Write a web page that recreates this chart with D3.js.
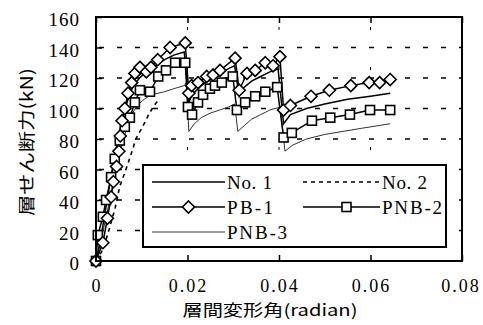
<!DOCTYPE html>
<html><head><meta charset="utf-8">
<script src="https://cdn.jsdelivr.net/npm/d3@7/dist/d3.min.js"></script>
<style>body{margin:0;background:#fff}svg{display:block}</style>
</head><body>
<svg id="c" width="483" height="325"></svg>
<script>
// ---- data ----
const xTicks = [0, 0.02, 0.04, 0.06, 0.08];
const xTickLabels = ["0", "0.02", "0.04", "0.06", "0.08"];
const yTicks = [0, 20, 40, 60, 80, 100, 120, 140, 160];
const yTickLabels = ["0", "20", "40", "60", "80", "100", "120", "140", "160"];
const seriesNames = ["No. 1", "No. 2", "PB-1", "PNB-2", "PNB-3"];
const xTitle = "層間変形角(radian)";
const yTitle = "層せん断力(kN)";

const no1 = [[0,0],[0.001,14],[0.002,32],[0.003,50],[0.004,68],[0.005,83],[0.006,96],[0.007,106],[0.008,114],[0.0095,120],[0.011,124],[0.013,128],[0.015,132],[0.017,135],[0.0193,137],
  [0.0203,104],[0.021,109],[0.023,115],[0.025,119],[0.027,123],[0.0295,127],[0.0303,128],
  [0.0313,108],[0.032,113],[0.034,118],[0.036,121],[0.038,124],[0.0398,126],
  [0.041,90],[0.0425,96],[0.046,100],[0.05,103],[0.055,106],[0.06,108],[0.0643,110]];
const no2 = [[0,0],[0.0012,6],[0.002,12],[0.003,22],[0.0042,35],[0.0052,49],[0.0063,58],[0.007,64],[0.0081,74],[0.0087,80],[0.0098,86],[0.0107,91],[0.0115,96],[0.0125,101],[0.0135,105]];
const pb1 = [[0,0],[0.0015,12],[0.0025,28],[0.0033,42],[0.0038,52],[0.0045,62],[0.005,72],[0.0053,82],[0.0057,92],[0.0063,100],[0.007,110],[0.0078,117],[0.0085,123],[0.0096,127],[0.011,124],[0.012,127],[0.0135,132],[0.0162,140],[0.0195,143],
  [0.0203,110],[0.0209,115],[0.0223,117],[0.0242,121],[0.0256,122],[0.0271,125],[0.0304,133],
  [0.0313,112],[0.033,123],[0.0348,125],[0.037,130],[0.0387,128],[0.0402,134],
  [0.041,99],[0.0425,102],[0.047,108],[0.051,112],[0.0557,115],[0.0597,117],[0.062,117],[0.0643,119]];
const pnb2 = [[0,0],[0.0004,17],[0.0015,29],[0.0022,40],[0.0033,55],[0.0041,67],[0.0052,79],[0.0063,88],[0.0074,94],[0.0085,104],[0.0096,112],[0.0118,111],[0.0136,121],[0.0153,125],[0.0173,130],[0.0195,130],
  [0.0201,101],[0.021,96],[0.0223,104],[0.0234,109],[0.0249,113],[0.026,115],[0.0275,117],[0.0299,121],
  [0.0308,99],[0.0326,104],[0.0348,108],[0.037,111],[0.0396,114],
  [0.041,81],[0.0428,84],[0.0472,92],[0.0512,94],[0.0555,96],[0.0599,99],[0.0643,99]];
const pnb3 = [[0,0],[0.001,12],[0.002,26],[0.003,40],[0.004,55],[0.005,68],[0.006,80],[0.007,90],[0.008,97],[0.009,102],[0.0105,106],[0.012,109],[0.0135,110],[0.015,111],[0.017,113],[0.0193,115],[0.0197,117],
  [0.0203,85],[0.0215,90],[0.023,94],[0.025,97],[0.027,99],[0.029,101],[0.0303,103],
  [0.031,85],[0.0325,89],[0.034,93],[0.036,96],[0.038,99],[0.0403,101],
  [0.0413,72],[0.043,76],[0.046,80],[0.05,83],[0.054,85],[0.058,87],[0.0643,90]];

// ---- layout ----
const L = 96, R = 462, T = 17, B = 261;
const x = d3.scaleLinear().domain([0, 0.08]).range([L, R]);
const y = d3.scaleLinear().domain([0, 160]).range([B, T]);
const svg = d3.select("#c");
const serif = "'Liberation Serif', 'DejaVu Serif', serif";
const jp = "'Noto Sans CJK JP', sans-serif";

// grid
svg.append("g").selectAll("line").data(yTicks.filter(v => v > 0 && v < 160)).join("line")
  .attr("x1", L).attr("x2", R).attr("y1", d => y(d)).attr("y2", d => y(d))
  .attr("stroke", "#000").attr("stroke-width", 1.5).attr("stroke-dasharray", "5,13").attr("stroke-dashoffset", -3);
svg.append("g").selectAll("line").data(xTicks.filter(v => v > 0 && v < 0.08)).join("line")
  .attr("x1", d => x(d)).attr("x2", d => x(d)).attr("y1", T).attr("y2", B)
  .attr("stroke", "#000").attr("stroke-width", 1).attr("stroke-dasharray", "3,37").attr("stroke-dashoffset", -10);

// axes (ticks inward)
const axL = d3.axisRight(y).tickValues(yTicks).tickSize(6).tickFormat("");
svg.append("g").attr("transform", `translate(${L},0)`).call(axL)
  .call(g => { g.select(".domain").remove(); g.selectAll("line").attr("stroke-width", 1.5); });
const axB = d3.axisTop(x).tickValues(xTicks).tickSize(6).tickFormat("");
svg.append("g").attr("transform", `translate(0,${B})`).call(axB)
  .call(g => { g.select(".domain").remove(); g.selectAll("line").attr("stroke-width", 1.5); });
const axT = d3.axisBottom(x).tickValues(xTicks).tickSize(6).tickFormat("");
svg.append("g").attr("transform", `translate(0,${T})`).call(axT)
  .call(g => { g.select(".domain").remove(); g.selectAll("line").attr("stroke-width", 1.5); });

// tick labels
svg.append("g").selectAll("text").data(yTicks).join("text")
  .attr("x", 80).attr("y", d => y(d) + 9).attr("text-anchor", "end")
  .attr("font-family", serif).attr("font-size", 19).attr("letter-spacing", 1)
  .text((d, i) => yTickLabels[i]);
svg.append("g").selectAll("text").data(xTicks).join("text")
  .attr("x", d => x(d) + (d === 0 ? 0 : 1) - (d === 0.08 ? 2 : 0)).attr("y", 292)
  .attr("text-anchor", "middle")
  .attr("font-family", serif).attr("font-size", 18)
  .attr("letter-spacing", d => d === 0 ? 0 : 2)
  .text((d, i) => xTickLabels[i]);

// titles
svg.append("text").attr("x", 270).attr("y", 316).attr("text-anchor", "middle")
  .attr("font-family", jp).attr("font-size", 16).attr("textLength", 175).attr("lengthAdjust", "spacingAndGlyphs")
  .text(xTitle);
svg.append("text").attr("transform", "translate(33,142) rotate(-90)").attr("text-anchor", "middle")
  .attr("font-family", jp).attr("font-size", 17).attr("textLength", 148).attr("lengthAdjust", "spacingAndGlyphs")
  .text(yTitle);

// lines
const line = d3.line().x(d => x(d[0])).y(d => y(d[1]));
const gL = svg.append("g").attr("fill", "none");
gL.append("path").datum(pnb3).attr("d", line).attr("stroke", "#333").attr("stroke-width", 1);
gL.append("path").datum(no2).attr("d", line).attr("stroke", "#000").attr("stroke-width", 1.6).attr("stroke-dasharray", "4,4");
gL.append("path").datum(no1).attr("d", line).attr("stroke", "#000").attr("stroke-width", 1.5);
gL.append("path").datum(pnb2).attr("d", line).attr("stroke", "#000").attr("stroke-width", 1.5);
gL.append("path").datum(pb1).attr("d", line).attr("stroke", "#000").attr("stroke-width", 1.5);

const sq = 9, dm = 6;
svg.append("g").selectAll("rect").data(pnb2).join("rect")
  .attr("x", d => x(d[0]) - sq/2).attr("y", d => y(d[1]) - sq/2).attr("width", sq).attr("height", sq)
  .attr("fill", "#fff").attr("stroke", "#000").attr("stroke-width", 1.6);
svg.append("g").selectAll("path").data(pb1).join("path")
  .attr("d", d => { const cx = x(d[0]), cy = y(d[1]); return `M${cx},${cy-dm}L${cx+dm},${cy}L${cx},${cy+dm}L${cx-dm},${cy}Z`; })
  .attr("fill", "#fff").attr("stroke", "#000").attr("stroke-width", 1.6);

// frame
svg.append("rect").attr("x", L).attr("y", T).attr("width", R - L).attr("height", B - T)
  .attr("fill", "none").attr("stroke", "#000").attr("stroke-width", 2);

// legend
const lg = svg.append("g");
lg.append("rect").attr("x", 143).attr("y", 165).attr("width", 303).attr("height", 82)
  .attr("fill", "#fff").attr("stroke", "#000").attr("stroke-width", 2);
const legItems = [
  {name: seriesNames[0], x0: 152, x1: 225, ty: 182, w: 45, stroke: "#000", sw: 1.5, dash: null, mk: null},
  {name: seriesNames[1], x0: 303, x1: 380, ty: 182, w: 45, stroke: "#000", sw: 1.4, dash: "4,4", mk: null},
  {name: seriesNames[2], x0: 152, x1: 225, ty: 207, w: 46, stroke: "#000", sw: 1.5, dash: null, mk: "d"},
  {name: seriesNames[3], x0: 303, x1: 380, ty: 207, w: 60, stroke: "#000", sw: 1.5, dash: null, mk: "s"},
  {name: seriesNames[4], x0: 152, x1: 225, ty: 232, w: 60, stroke: "#333", sw: 1, dash: null, mk: null}
];
legItems.forEach(it => {
  lg.append("line").attr("x1", it.x0).attr("x2", it.x1).attr("y1", it.ty).attr("y2", it.ty)
    .attr("stroke", it.stroke).attr("stroke-width", it.sw).attr("stroke-dasharray", it.dash);
  const cx = (it.x0 + it.x1) / 2 + (it.mk === "s" ? 5 : 0);
  if (it.mk === "d") lg.append("path").attr("d", `M${cx},${it.ty-dm}L${cx+dm},${it.ty}L${cx},${it.ty+dm}L${cx-dm},${it.ty}Z`)
    .attr("fill", "#fff").attr("stroke", "#000").attr("stroke-width", 1.6);
  if (it.mk === "s") lg.append("rect").attr("x", cx - sq/2).attr("y", it.ty - sq/2).attr("width", sq).attr("height", sq)
    .attr("fill", "#fff").attr("stroke", "#000").attr("stroke-width", 1.6);
  lg.append("text").attr("x", it.x1 + 2).attr("y", it.ty + 7).attr("font-family", serif).attr("font-size", 19)
    .attr("textLength", it.w).attr("lengthAdjust", "spacing").text(it.name);
});
</script>
</body></html>
